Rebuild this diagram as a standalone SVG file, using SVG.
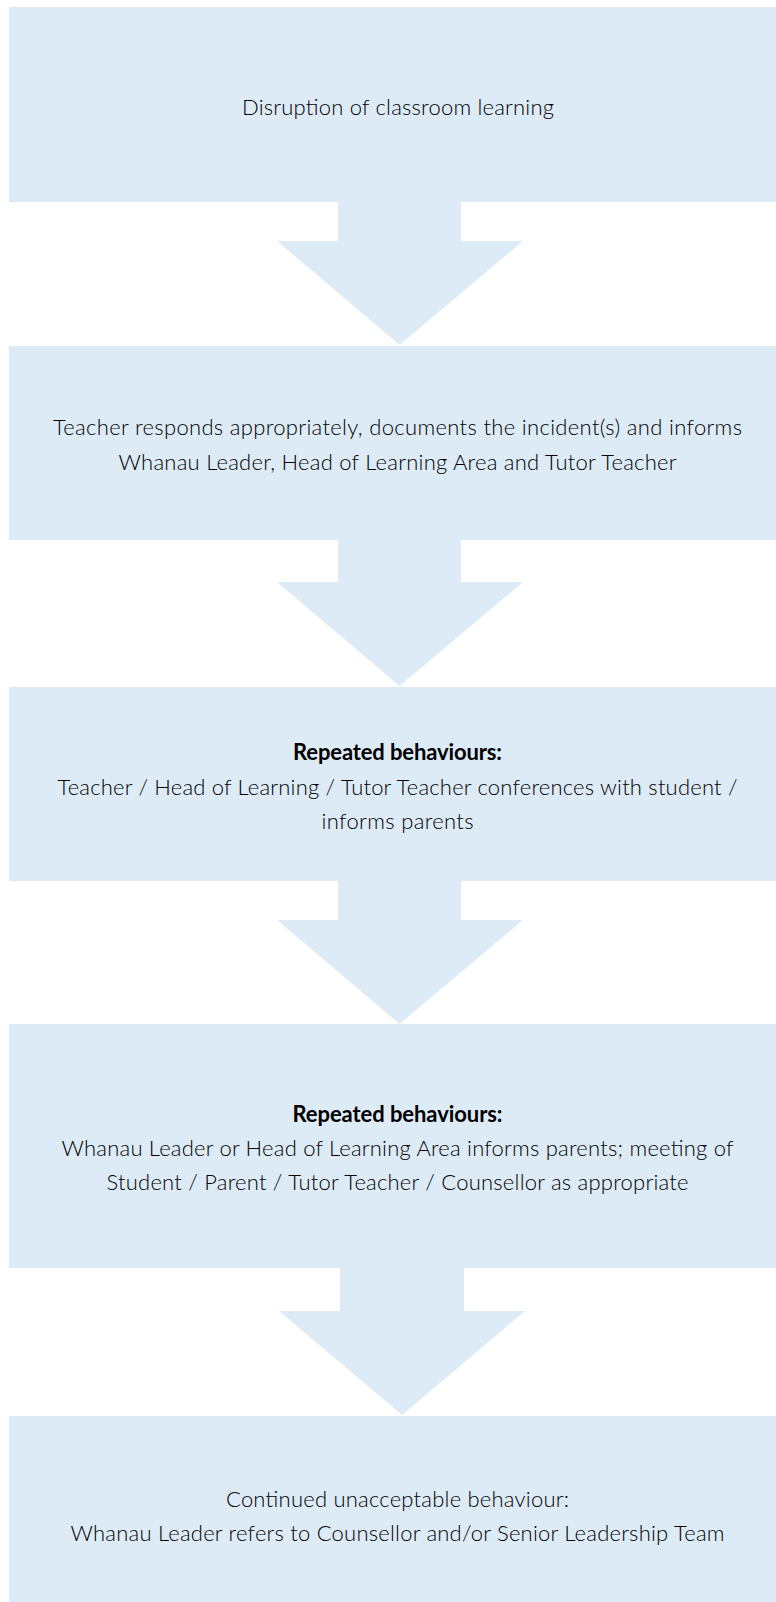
<svg xmlns="http://www.w3.org/2000/svg" width="776" height="1602" viewBox="0 0 776 1602">
<style>
.box{fill:#DDEBF7}
.arr{fill:#DDEBF7}
text{font-family:Lato,"Open Sans","Liberation Sans",sans-serif;font-size:22px;font-weight:300;fill:#000000;text-anchor:middle}
.b{font-weight:bold;fill:#000000}
</style>
<rect width="776" height="1602" fill="#ffffff"/>
<g id="connectors">
<polygon class="arr" points="338,201 461,201 461,241 523,241 399.5,345 277,241 338,241"/>
<polygon class="arr" points="338,539 461,539 461,582 523,582 399.5,686 277,582 338,582"/>
<polygon class="arr" points="338,880 461,880 461,920 523,920 399.5,1024 277,920 338,920"/>
<polygon class="arr" points="340,1267 464,1267 464,1311 525,1311 402,1415 279,1311 340,1311"/>
</g>
<g id="n1"><rect class="box" x="9" y="7" width="767" height="195"/>
<text x="398" y="115" textLength="312">Disruption of classroom learning</text></g>
<g id="n2"><rect class="box" x="9" y="346" width="767" height="194"/>
<text x="397.5" y="435" textLength="689">Teacher responds appropriately, documents the incident(s) and informs</text>
<text x="397.5" y="470" textLength="558">Whanau Leader, Head of Learning Area and Tutor Teacher</text></g>
<g id="n3"><rect class="box" x="9" y="687" width="767" height="194"/>
<text class="b" x="397.5" y="760" textLength="209">Repeated behaviours:</text>
<text x="397.5" y="795" textLength="680">Teacher / Head of Learning / Tutor Teacher conferences with student /</text>
<text x="397.5" y="829" textLength="152">informs parents</text></g>
<g id="n4"><rect class="box" x="9" y="1024" width="767" height="244"/>
<text class="b" x="397.5" y="1122" textLength="210">Repeated behaviours:</text>
<text x="397.5" y="1156" textLength="672">Whanau Leader or Head of Learning Area informs parents; meeting of</text>
<text x="397.5" y="1190" textLength="582">Student / Parent / Tutor Teacher / Counsellor as appropriate</text></g>
<g id="n5"><rect class="box" x="9" y="1416" width="767" height="186"/>
<text x="397.5" y="1507" textLength="343">Continued unacceptable behaviour:</text>
<text x="397.5" y="1541" textLength="654">Whanau Leader refers to Counsellor and/or Senior Leadership Team</text></g>
</svg>
